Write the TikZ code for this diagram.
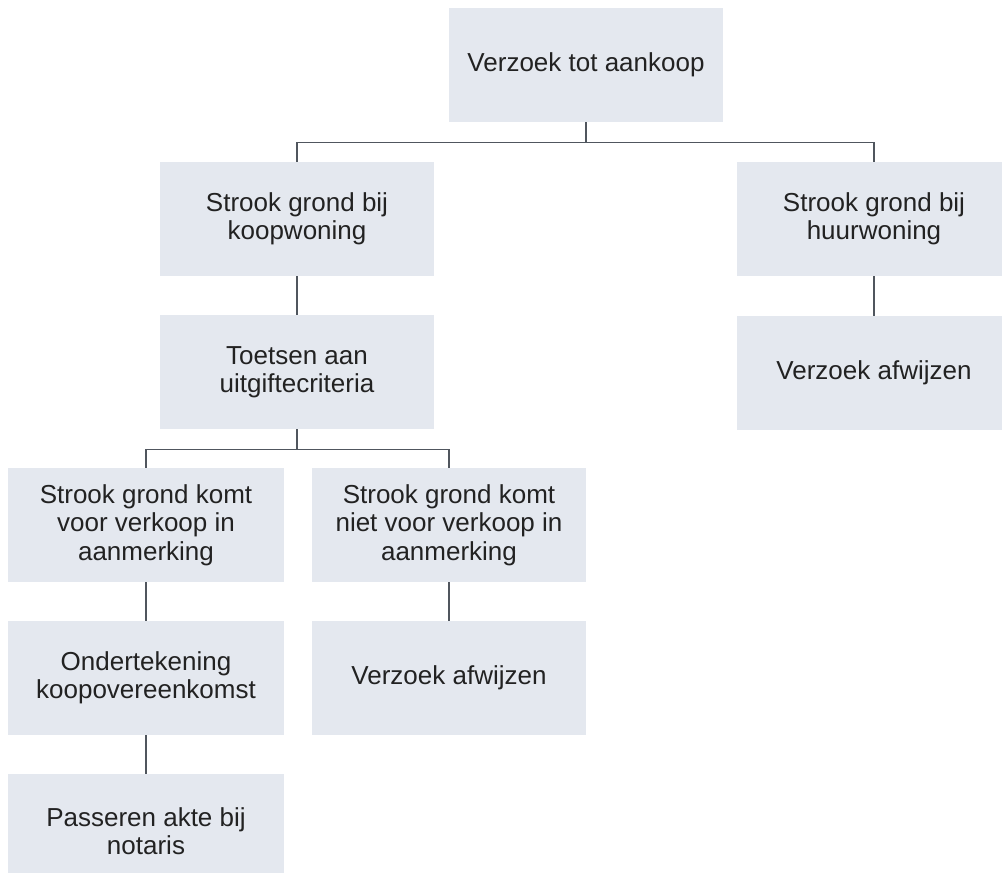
\documentclass[tikz,border=0pt]{standalone}
\usepackage{fontspec}
\setmainfont{Liberation Sans}
\definecolor{boxfill}{RGB}{228,232,239}
\definecolor{linegrey}{RGB}{80,86,94}
\definecolor{textgrey}{RGB}{34,34,34}
\begin{document}
\begin{tikzpicture}
        [x=1pt,y=-1pt,
         stap/.style={fill=boxfill,minimum width=274pt,minimum height=114pt,inner sep=0pt,
           align=center,text=textgrey,font=\fontsize{26}{28.5}\selectfont},
         lijn/.style={draw=linegrey,line width=1.4pt}]
        \useasboundingbox (0,0) rectangle (1002,873);

        \node[stap] (aankoop) at (586,65) {Verzoek tot aankoop};
        \node[stap] (koop) at (297,219) {Strook grond bij\\koopwoning};
        \node[stap] (huur) at (874,219) {Strook grond bij\\huurwoning};
        \node[stap] (toets) at (297,372) {Toetsen aan\\uitgiftecriteria};
        \node[stap] (afwijzen1) at (874,373) {Verzoek afwijzen};
        \node[stap,minimum width=276pt] (wel) at (146,525) {Strook grond komt\\voor verkoop in\\aanmerking};
        \node[stap] (niet) at (449,525) {Strook grond komt\\niet voor verkoop in\\aanmerking};
        \node[stap,minimum width=276pt] (teken) at (146,678) {Ondertekening\\koopovereenkomst};
        \node[stap] (afwijzen2) at (449,678) {Verzoek afwijzen};
        \node[stap,minimum width=276pt] (akte) at (146,831) {Passeren akte bij\\notaris};

        \draw[lijn] (aankoop.south) -- ++(0,20) coordinate (j1);
        \draw[lijn] (koop.north) |- (j1) -| (huur.north);
        \draw[lijn] (koop) -- (toets);
        \draw[lijn] (huur) -- (afwijzen1);
        \draw[lijn] (toets.south) -- ++(0,20) coordinate (j2);
        \draw[lijn] (wel.north) |- (j2) -| (niet.north);
        \draw[lijn] (wel) -- (teken);
        \draw[lijn] (teken) -- (akte);
        \draw[lijn] (niet) -- (afwijzen2);
      \end{tikzpicture}
\end{document}
